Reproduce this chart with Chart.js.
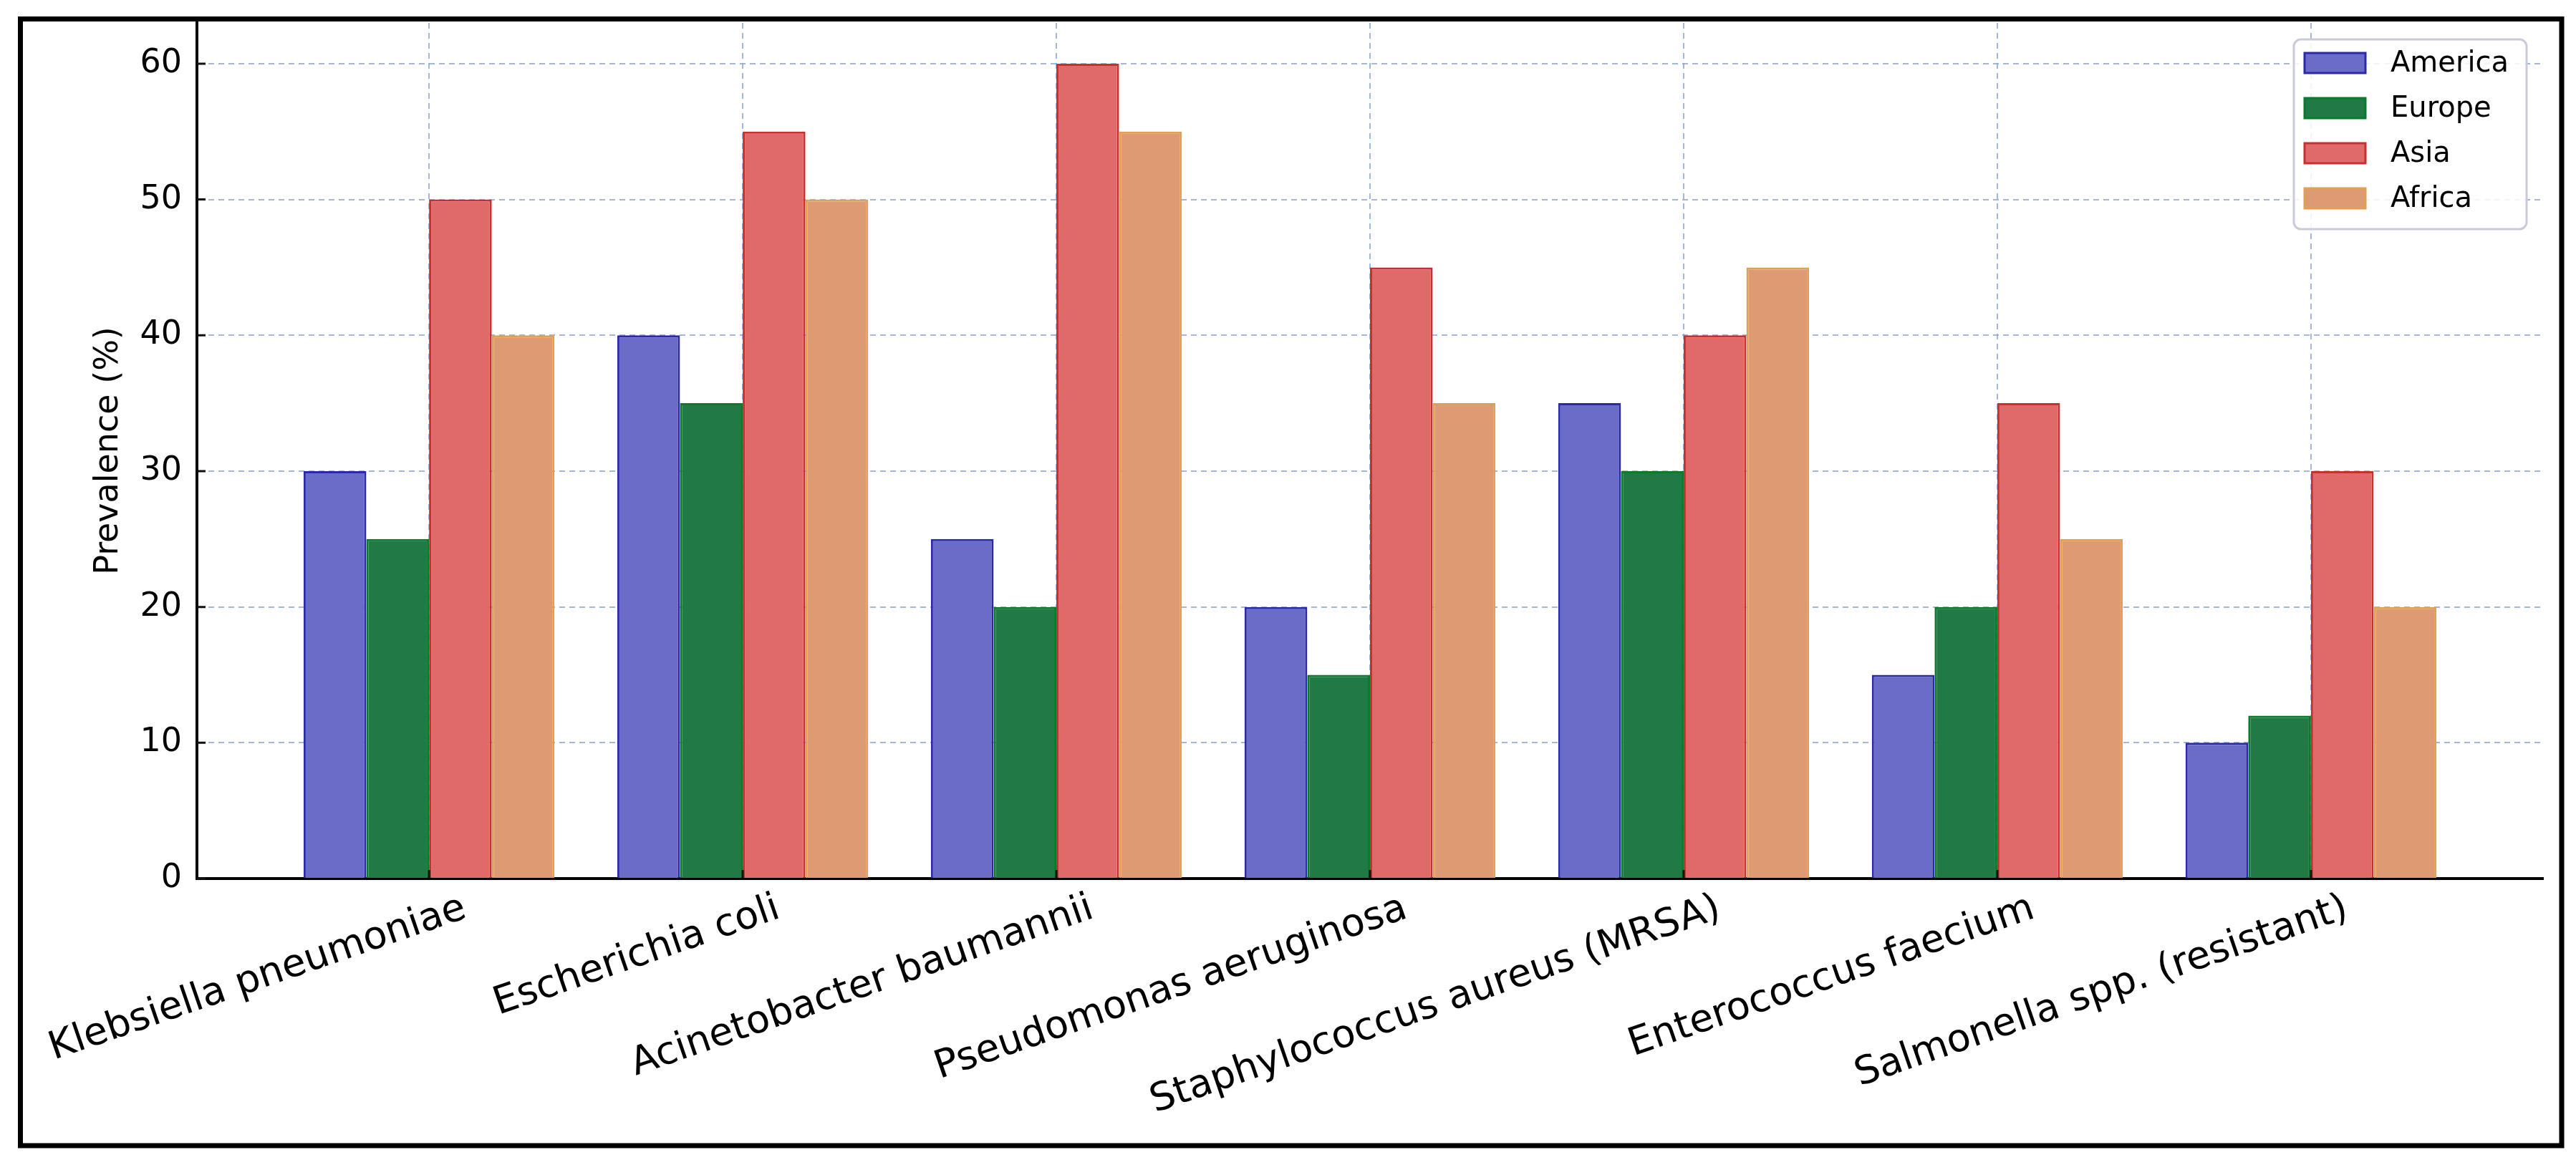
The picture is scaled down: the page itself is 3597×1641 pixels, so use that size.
<!DOCTYPE html>
<html>
<head>
<meta charset="utf-8">
<title>Prevalence by region</title>
<script src="https://cdn.jsdelivr.net/npm/chart.js@4.4.0/dist/chart.umd.min.js"></script>
<style>
    html, body { margin: 0; padding: 0; background: #fff; }
    canvas { display: block; }
</style>
</head>
<body>
<canvas id="prevChart" width="3597" height="1641"></canvas>
<script>
// データ
const pathogens = [
    'Klebsiella pneumoniae',
    'Escherichia coli',
    'Acinetobacter baumannii',
    'Pseudomonas aeruginosa',
    'Staphylococcus aureus (MRSA)',
    'Enterococcus faecium',
    'Salmonella spp. (resistant)'
];
const regionNames = ['America', 'Europe', 'Asia', 'Africa'];
const america = [30, 40, 25, 20, 35, 15, 10];
const europe  = [25, 35, 20, 15, 30, 20, 12];
const asia    = [50, 55, 60, 45, 40, 35, 30];
const africa  = [40, 50, 55, 35, 45, 25, 20];
const yTicks  = [0, 10, 20, 30, 40, 50, 60];

// 色
const fills   = ['#6b6bc8', '#217a45', '#e06a6a', '#de9a72'];
const borders = ['#2a2aa8', '#0b7a2c', '#c83030', '#e0a050'];

const FONT = "'DejaVu Sans', sans-serif";
Chart.defaults.font.family = FONT;
Chart.defaults.color = '#000';

const seriesValues = [america, europe, asia, africa];
const datasets = seriesValues.map((values, k) => ({
    label: regionNames[k],
    data: values.map((v, i) => ({ x: i, y: v })),
    backgroundColor: fills[k],
    borderColor: borders[k],
    borderWidth: 3,
    categoryPercentage: 0.8,
    barPercentage: 1.0
}));

/**
 * 外枠・内向き目盛り・凡例を描く
 */
const decorations = {
    id: 'decorations',
    afterDatasetsDraw(chart) {
        const ctx = chart.ctx;
        const area = chart.chartArea;
        const xs = chart.scales.x;
        const ys = chart.scales.y;
        ctx.save();
        ctx.strokeStyle = '#111';
        ctx.lineWidth = 3;
        ctx.beginPath();
        yTicks.forEach(t => {
            const y = ys.getPixelForValue(t);
            ctx.moveTo(area.left, y);
            ctx.lineTo(area.left + 12, y);
        });
        pathogens.forEach((_, i) => {
            const x = xs.getPixelForValue(i);
            ctx.moveTo(x, area.bottom);
            ctx.lineTo(x, area.bottom - 12);
        });
        ctx.stroke();
        ctx.restore();
    },
    afterDraw(chart) {
        const ctx = chart.ctx;
        const area = chart.chartArea;
        ctx.save();

        // 凡例
        const boxW = 325, boxH = 265;
        const bx = area.right - 23 - boxW;
        const by = area.top + 23;
        ctx.beginPath();
        ctx.roundRect(bx, by, boxW, boxH, 10);
        ctx.fillStyle = 'rgba(255,255,255,0.85)';
        ctx.fill();
        ctx.lineWidth = 3;
        ctx.strokeStyle = '#c9cbdc';
        ctx.stroke();

        ctx.font = '40px ' + FONT;
        ctx.textBaseline = 'middle';
        chart.data.datasets.forEach((ds, k) => {
            const cy = by + 33 + k * 63;
            ctx.fillStyle = ds.backgroundColor;
            ctx.fillRect(bx + 15, cy - 14, 85, 28);
            ctx.lineWidth = 3;
            ctx.strokeStyle = ds.borderColor;
            ctx.strokeRect(bx + 15, cy - 14, 85, 28);
            ctx.fillStyle = '#000';
            ctx.fillText(ds.label, bx + 135, cy + 2);
        });

        // 外枠
        ctx.lineWidth = 7;
        ctx.strokeStyle = '#000';
        ctx.strokeRect(28.5, 26.5, 3548.5, 1573.5);
        ctx.restore();
    }
};

const gridStyle = {
    color: 'rgba(140,165,210,0.8)',
    lineWidth: 2,
    drawTicks: false,
    offset: false
};

new Chart(document.getElementById('prevChart'), {
    type: 'bar',
    data: { datasets },
    options: {
        responsive: false,
        devicePixelRatio: 1,
        animation: false,
        layout: { padding: { left: 0, top: 32, right: 46, bottom: 0 } },
        plugins: {
            legend: { display: false },
            tooltip: { enabled: false }
        },
        scales: {
            x: {
                type: 'linear',
                offset: false,
                min: -0.74,
                max: 6.74,
                afterBuildTicks: scale => {
                    scale.ticks = pathogens.map((_, i) => ({ value: i }));
                },
                afterFit: scale => {
                    scale.height = 414;
                    scale.paddingLeft = 0;
                    scale.paddingRight = 0;
                },
                grid: gridStyle,
                border: { display: true, color: '#000', width: 4, dash: [8, 6] },
                ticks: {
                    autoSkip: false,
                    minRotation: 19,
                    maxRotation: 19,
                    padding: 10,
                    labelOffset: 50,
                    font: { size: 54 },
                    color: '#000',
                    callback: v => pathogens[v]
                }
            },
            y: {
                min: 0,
                max: 63,
                afterBuildTicks: scale => {
                    scale.ticks = yTicks.map(v => ({ value: v }));
                },
                afterFit: scale => {
                    scale.width = 275;
                    scale.paddingTop = 0;
                    scale.paddingBottom = 0;
                },
                grid: gridStyle,
                border: { display: true, color: '#000', width: 4, dash: [8, 6] },
                ticks: {
                    padding: 21,
                    font: { size: 46 },
                    color: '#000'
                },
                title: {
                    display: true,
                    text: 'Prevalence (%)',
                    font: { size: 46 },
                    color: '#000',
                    padding: { top: 124, bottom: 0 }
                }
            }
        }
    },
    plugins: [decorations]
});
</script>
</body>
</html>
